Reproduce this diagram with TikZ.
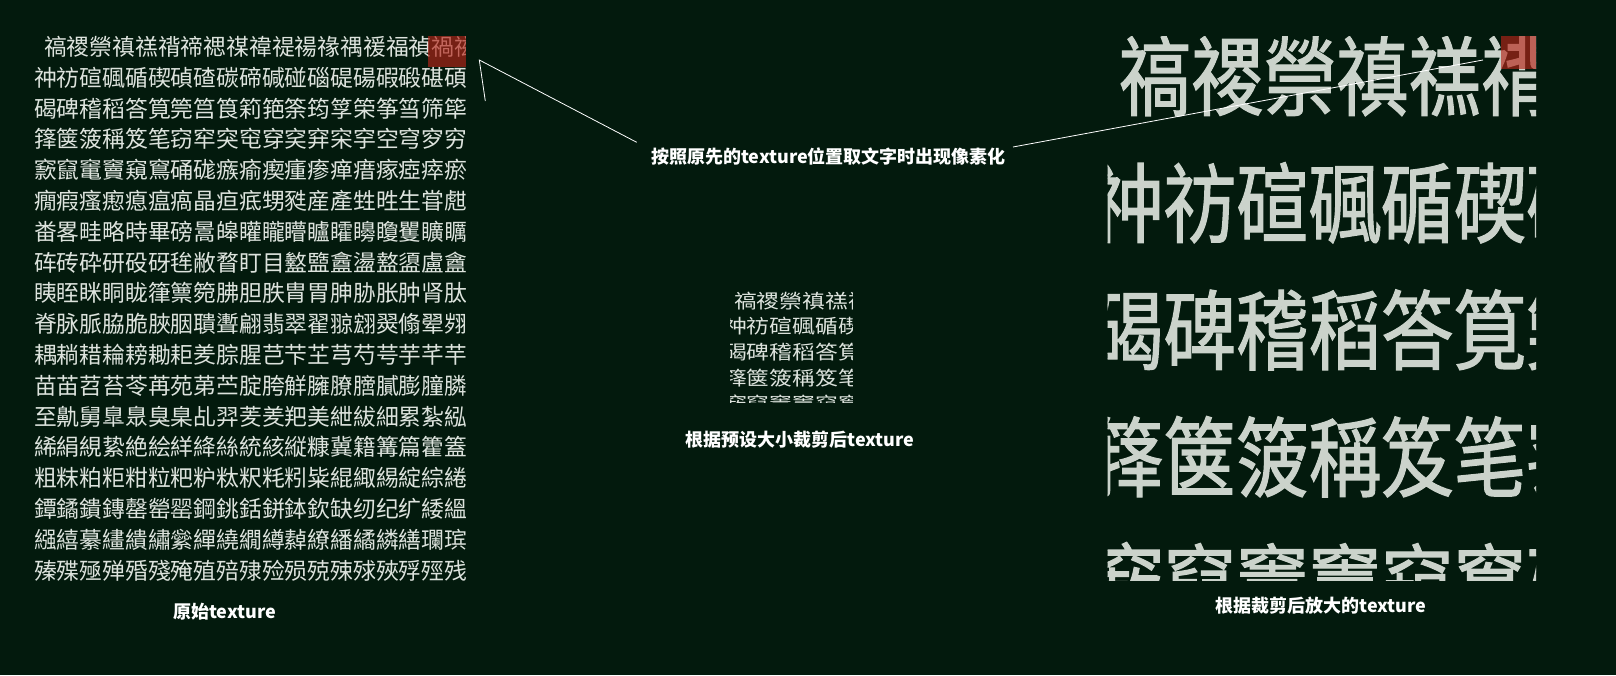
\documentclass[tikz,border=0pt]{standalone}
\usepackage{fontspec}
\newfontfamily\cjk{Noto Sans CJK SC}
\newfontfamily\cjkfat{Noto Sans CJK SC}[FakeBold=1.4]
\usetikzlibrary{calc}

\definecolor{bgdark}{HTML}{031A0D}
\definecolor{glyphgray}{HTML}{DDE3DD}
\definecolor{softgray}{HTML}{CBD3CB}
\definecolor{markred}{HTML}{B52418}

% glyph atlas, one entry per row
\newcommand\atlasrows{%
禞禝禜禛禚禙禘禗禖禕禔禓禒禑禐福禎禍禌,%
祌祊碹碸碷碶碵碴碳碲碱碰碯碮碭碬碫碪碩,%
碣碑稽稻答筧筦筥筤筣筢筡筠筟筞筝筜筛筚,%
箨箧箥稱笈笔窃窂突窀穿穾穽穼穻空穹穸穷,%
窾竄竃竇窺窵硧硥瘯瘉瘈瘇瘆瘅瘄瘃瘂瘁瘀,%
癇瘕瘙瘛瘜瘟瘑晶疸疷甥甤産產甡甠生甞甝,%
畨畧畦略時畢磅暠皞矔矓矒矑矐矏矎矍矌矋,%
砗砖砕研砓砑毪敝瞀盯目盭盬盫盪盩盨盧盦,%
眱眰眯眮眬箻篻箢胇胆胅胄胃胂胁胀肿肾肽,%
脊脉脈脇脆脥胭聵聻翩翡翠翟翞翝翜翛翚翙,%
耦耥耤耣耪耡耟羑腙腥芑芐芏芎芍芌芋芊芉,%
苗苖苕苔苓苒苑苐苎腚胯觧臃膫膪膩膨膧膦,%
至鼽舅臯臮臭臬乩羿羐羑羓美紲紱細累紮紭,%
絺絹絸絷絶絵絴絳絲統絯縦糠冀籍篝篇籗篕,%
粗粖粕粔粓粒粑粐粏粎粍粌粊緄緅緆綻綜綣,%
鐔鐍鐀鏄罄罃罂鋼銚銛鉼鉢欽缺纫纪纩緌縕,%
繦繥繤繣繢繡繠繟繞繝繜繛繚繙繘繗繕瓓瑸,%
殝殜殛殚殙殘殗殖殕殔殓殒殑殐殏殎殍殌残}

% the corner that is cut out of it
\newcommand\croprows{%
禞禝禜禛禚禙,%
祌祊碹碸碷碶碵,%
碣碑稽稻答筧筦,%
箨箧箥稱笈笔窃,%
窾竄竃竇窺窵硧}

\begin{document}
\begin{tikzpicture}[x=1pt, y=-1pt,
  glyphrow/.style={anchor=base west, inner sep=0pt, text=glyphgray, font=\cjk\fontsize{22.8}{22.8}\selectfont},
  bigrow/.style={anchor=base west, inner sep=0pt, text=softgray, font=\cjkfat\fontsize{72.5}{72.5}\selectfont},
  caption/.style={inner sep=0pt, text=white, font=\cjk\bfseries\fontsize{18}{18}\selectfont},
  pointer/.style={draw=white, line width=0.8pt},
  marker/.style={fill=markred, fill opacity=0.65}]
  \fill[bgdark] (0,0) rectangle (1616,675);
  \useasboundingbox (0,0) rectangle (1616,675);

  % original texture
  \begin{scope}
    \clip (0,0) rectangle (465.5,600);
    \foreach \txt [count=\i from 0] in \atlasrows
      \node[glyphrow] (orig\i) at ({\i==0 ? 43.9 : 33.9}, {55.4+\i*30.8}) {\txt};
  \end{scope}
  \fill[marker] (428,36) rectangle (465.5,67);

  % cropped texture
  \begin{scope}
    \clip (730,285) rectangle (852,402);
    \foreach \txt [count=\i from 0] in \croprows
      \node[glyphrow] (crop\i) at ({\i==0 ? 733.9 : 723.9}, {308.1+\i*25.8}) {\scalebox{1}[0.85]{\txt}};
  \end{scope}

  % enlarged texture
  \begin{scope}
    \clip (1107.5,36) rectangle (1536,580);
    \foreach \txt [count=\i from 0] in \croprows
      \node[bigrow] (zoom\i) at ({\i==0 ? 1118.4 : 1090.9}, {109+\i*127}) {\scalebox{1}[1.2]{\txt}};
  \end{scope}
  \fill[marker] (1501,36) rectangle (1536,69);

  \node[caption] (origlabel) at (224.5,611.5) {原始texture};
  \node[caption] (croplabel) at (800,440) {根据预设大小裁剪后texture};
  \node[caption] (zoomlabel) at (1321,606) {根据裁剪后放大的texture};
  \node[caption] (pixlabel) at (828.5,156.5) {按照原先的texture位置取文字时出现像素化};

  \coordinate (startL) at (636.7,142.3);
  \coordinate (tipL) at (479.3,60);
  \coordinate (barbL) at (485.3,101);
  \coordinate (startR) at (1013,147);
  \coordinate (tipR) at (1483,60);
  \draw[pointer] (startL) -- (tipL) -- (barbL);
  \draw[pointer] (startR) -- (tipR);
\end{tikzpicture}
\end{document}
